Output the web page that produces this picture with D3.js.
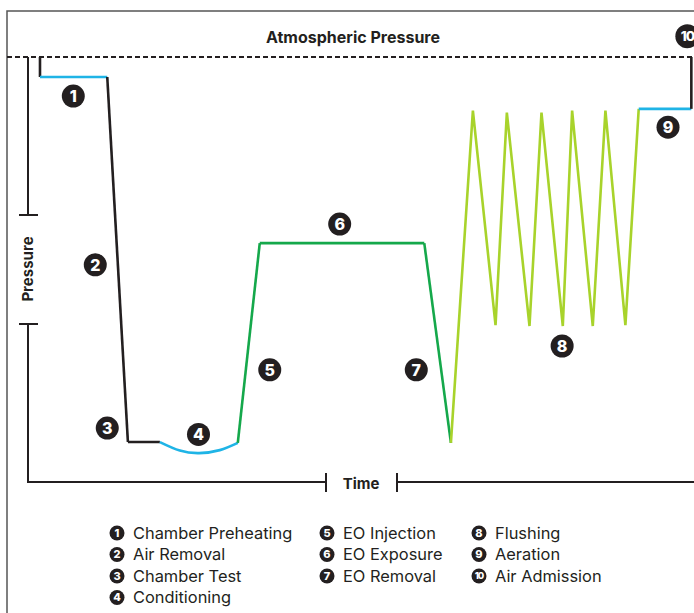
<!DOCTYPE html>
<html>
<head>
<meta charset="utf-8">
<script src="https://cdn.jsdelivr.net/npm/d3@7"></script>
<style>
  html, body { margin: 0; padding: 0; background: #fff; }
  svg { display: block; font-family: Inter, "Open Sans", sans-serif; }
</style>
</head>
<body>
<svg id="chart" width="694" height="613"></svg>
<script>
// cycle data: time (0-100) and pressure (100 = atmospheric) per phase segment
const segStart = { t: [1.8, 1.8], p: [100, 95.3] };
const preheatT = [1.8, 11.9], preheatP = [95.3, 95.3];
const removalT = [11.9, 15.0], removalP = [95.3, 9.4];
const testT = [15.0, 19.8], testP = [9.4, 9.4];
const conditionT = [19.8, 22.8, 25.7, 28.8, 31.5], conditionP = [9.4, 7.4, 6.8, 7.5, 9.2];
const injectT = [31.5, 34.8], injectP = [9.2, 56.2];
const exposeT = [34.8, 59.5], exposeP = [56.2, 56.2];
const eoRemoveT = [59.5, 63.5], eoRemoveP = [56.2, 9.2];
const flushT = [63.5, 66.8, 70.2, 71.9, 75.3, 77.1, 80.3, 81.7, 84.8, 86.7, 89.7, 91.7];
const flushP = [9.2, 87.4, 36.9, 86.9, 36.7, 86.9, 36.7, 87.4, 36.7, 87.4, 36.9, 87.8];
const aerateT = [91.7, 99.6], aerateP = [87.8, 87.8];
const admitT = [99.6, 99.6], admitP = [87.8, 100];

// badge positions (time, pressure) for phases 1..10
const badgeT = [6.8, 10.1, 11.9, 25.6, 36.3, 46.8, 58.3, 80.2, 96.1, 99.0];
const badgeP = [90.8, 51.1, 12.7, 11.2, 26.4, 60.7, 26.4, 32.0, 83.5, 104.9];

const phaseNames = ["Chamber Preheating", "Air Removal", "Chamber Test", "Conditioning",
  "EO Injection", "EO Exposure", "EO Removal", "Flushing", "Aeration", "Air Admission"];

const BLACK = "#231f20", BLUE = "#1fb4e6", GREEN = "#15a84b", LIME = "#a8d32b";

const svg = d3.select("#chart");
const x = d3.scaleLinear().domain([0, 100]).range([28, 694]);
const y = d3.scaleLinear().domain([0, 100]).range([482, 57]);

// frame
svg.append("path")
  .attr("d", "M7,613 V11 H694")
  .attr("fill", "none").attr("stroke", "#555").attr("stroke-width", 1.5);

svg.append("text")
  .attr("x", 353).attr("y", 43)
  .attr("text-anchor", "middle")
  .attr("font-size", 16).attr("font-weight", 700).attr("fill", BLACK)
  .text("Atmospheric Pressure");

// atmospheric line
svg.append("line")
  .attr("x1", 7).attr("x2", 694).attr("y1", y(100)).attr("y2", y(100))
  .attr("stroke", BLACK).attr("stroke-width", 2).attr("stroke-dasharray", "5,3");

// axes with capped gaps
const axisG = svg.append("g").attr("stroke", BLACK).attr("stroke-width", 2).attr("fill", "none");
axisG.append("path").attr("d", `M${x(0)},${y(100)} V215 M19,215 H38 M19,324 H38 M${x(0)},324 V${y(0)} H326 M326,473 V492 M397,473 V492 M397,${y(0)} H694`);

svg.append("text")
  .attr("transform", "translate(33,269) rotate(-90)")
  .attr("text-anchor", "middle")
  .attr("font-size", 15).attr("font-weight", 700).attr("fill", BLACK)
  .text("Pressure");

svg.append("text")
  .attr("x", 361).attr("y", 489)
  .attr("text-anchor", "middle")
  .attr("font-size", 15).attr("font-weight", 700).attr("fill", BLACK)
  .text("Time");

// curve segments
const segs = [
  [segStart.t, segStart.p, BLACK, d3.curveLinear],
  [preheatT, preheatP, BLUE, d3.curveLinear],
  [removalT, removalP, BLACK, d3.curveLinear],
  [testT, testP, BLACK, d3.curveLinear],
  [conditionT, conditionP, BLUE, d3.curveNatural],
  [injectT, injectP, GREEN, d3.curveLinear],
  [exposeT, exposeP, GREEN, d3.curveLinear],
  [eoRemoveT, eoRemoveP, GREEN, d3.curveLinear],
  [flushT, flushP, LIME, d3.curveLinear],
  [aerateT, aerateP, BLUE, d3.curveLinear],
  [admitT, admitP, BLACK, d3.curveLinear]
];

segs.forEach(function (s) {
  const pts = s[0].map((t, i) => [t, s[1][i]]);
  const line = d3.line().x(d => x(d[0])).y(d => y(d[1])).curve(s[3]);
  svg.append("path")
    .attr("d", line(pts))
    .attr("fill", "none")
    .attr("stroke", s[2])
    .attr("stroke-width", 2.6)
    .attr("stroke-linejoin", "miter");
});

// numbered badges
function badge(g, cx, cy, r, n, fs) {
  g.append("circle").attr("cx", cx).attr("cy", cy).attr("r", r).attr("fill", BLACK);
  g.append("text")
    .attr("x", cx).attr("y", cy)
    .attr("dy", "0.36em")
    .attr("text-anchor", "middle")
    .attr("font-size", n > 9 ? fs * 0.85 : fs)
    .attr("font-weight", 800)
    .attr("letter-spacing", n > 9 ? -1 : 0)
    .attr("fill", "#fff")
    .text(n);
}

const badges = svg.append("g");
badgeT.forEach((t, i) => badge(badges, x(t), y(badgeP[i]), i === 9 ? 12 : 11.5, i + 1, 16));

// legend
const legend = svg.append("g");
const colX = [117, 327, 479];
const rowY = [533, 554.5, 576, 597.5];
phaseNames.forEach(function (name, i) {
  const col = i < 4 ? 0 : (i < 7 ? 1 : 2);
  const row = i < 4 ? i : (i < 7 ? i - 4 : i - 7);
  const cx = colX[col], cy = rowY[row];
  badge(legend, cx, cy, 7.5, i + 1, 11);
  legend.append("text")
    .attr("x", cx + 16).attr("y", cy)
    .attr("dy", "0.36em")
    .attr("font-size", 16.4).attr("fill", BLACK)
    .text(name);
});
</script>
</body>
</html>
